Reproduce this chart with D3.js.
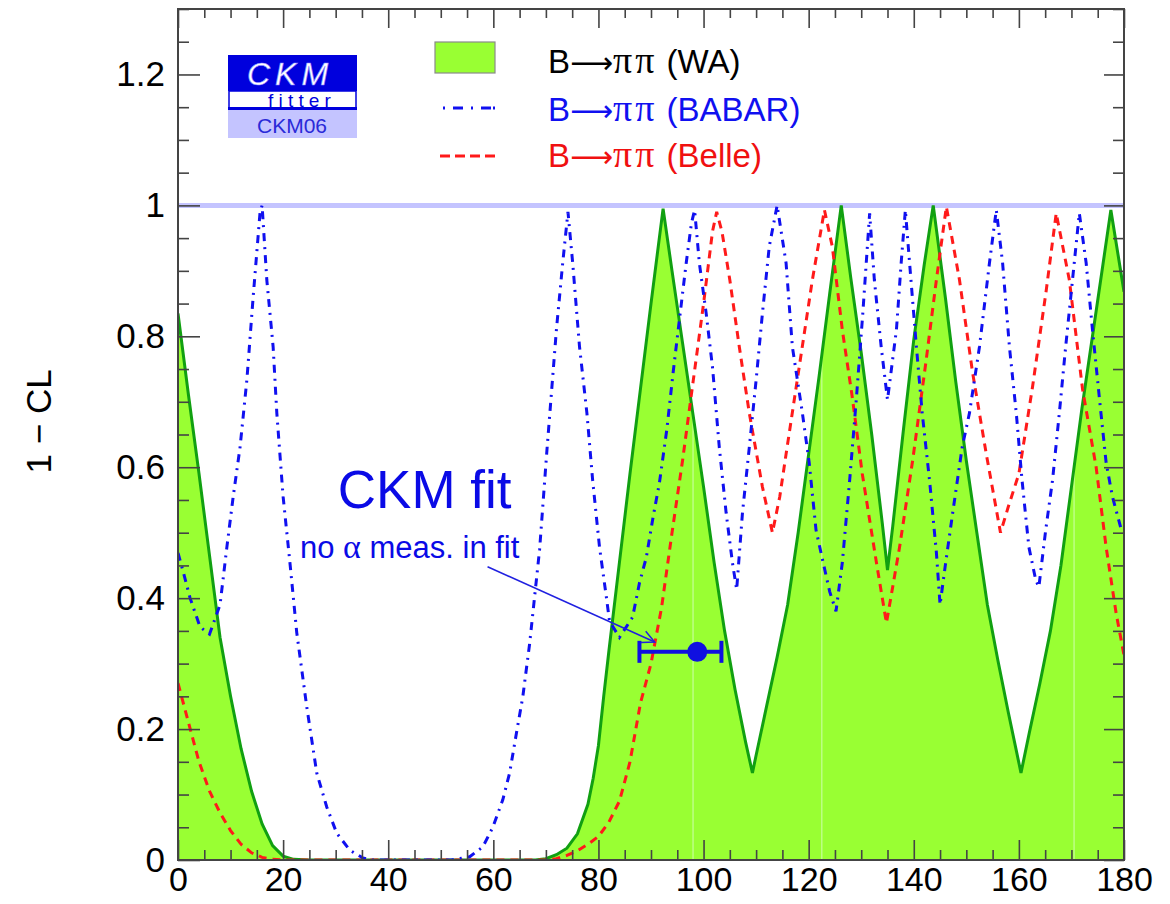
<!DOCTYPE html>
<html><head><meta charset="utf-8">
<script src="https://cdn.jsdelivr.net/npm/d3@7"></script>
<style>
html,body{margin:0;padding:0;background:#fff;}
svg{display:block;font-family:"Liberation Sans",Arial,Helvetica,sans-serif;}
</style></head>
<body><svg id="c" width="1170" height="904"></svg>
<script>
// ---- data (alpha in degrees, 1-CL) ----
const waX = [0,2,4,6,8,10,12,14,16,18,20,22,25,30,40,50,60,65,68,70,72,74,76,78,79,80,81,82,84,86,88,90,92.3,94,96,98,100,102,104,106,108,109.3,110,112,114,116,118,120,122,124,126.2,128,130,132,134,135,136,138,140,142,143.7,146,148,150,152,154,156,158,160.4,162,164,166,168,170,172,174,176,177.5,180];
const waY = [0.835,0.71,0.59,0.465,0.34,0.25,0.17,0.105,0.055,0.022,0.006,0.001,0,0,0,0,0,0,0,0.002,0.008,0.018,0.04,0.085,0.125,0.175,0.25,0.32,0.455,0.59,0.72,0.85,0.995,0.9,0.79,0.68,0.57,0.455,0.35,0.26,0.18,0.133,0.16,0.235,0.31,0.39,0.5,0.62,0.74,0.865,1.0,0.89,0.775,0.65,0.515,0.443,0.51,0.655,0.795,0.91,1.0,0.86,0.73,0.61,0.5,0.39,0.305,0.225,0.133,0.195,0.27,0.35,0.45,0.57,0.69,0.8,0.91,0.993,0.868];

const babarX = [0,1,2.3,4.2,6,8,9.3,10.5,11.8,13.1,14.3,15.6,16,16.9,18.1,18.8,20,21.3,22.6,24.5,26.4,28.3,30.2,32.7,35.2,37,52,55.5,58,59.9,61.8,63.1,64.4,65.6,66.9,68.8,70.2,72,73.2,74.2,75.1,76.4,77.8,78.9,80.2,81.5,82.1,84,86.5,87.8,89.1,90.4,91.6,93,94.2,95.4,96.7,97.7,98.3,99.2,100.5,101.7,103,104.3,105.5,106.3,107.4,108.7,110,111.2,112.5,114,115.7,116.9,118.8,120.1,121.4,122.6,124,125.2,126.4,127.8,129.1,130.3,131.6,132.5,133.8,135,136.7,137.6,138.4,139.2,140.5,141.6,143,144.3,145,146,147.4,149.2,150.6,152.5,154.4,155.7,156.9,158.2,159.5,160.6,161.9,163.2,163.8,165.1,166.4,167.7,168.9,170.2,171.5,172.8,174,175.3,176.6,177.8,179.5,180];
const babarY = [0.469,0.44,0.4,0.356,0.345,0.39,0.478,0.555,0.63,0.733,0.86,0.988,1.0,0.886,0.784,0.683,0.555,0.454,0.347,0.234,0.133,0.081,0.041,0.015,0.003,0,0,0.005,0.02,0.05,0.092,0.133,0.194,0.249,0.33,0.474,0.626,0.81,0.912,0.99,0.912,0.784,0.683,0.58,0.478,0.402,0.365,0.34,0.371,0.423,0.462,0.524,0.576,0.657,0.744,0.825,0.912,0.973,0.993,0.912,0.835,0.753,0.63,0.53,0.454,0.413,0.53,0.63,0.733,0.835,0.937,1.0,0.912,0.784,0.683,0.607,0.504,0.46,0.41,0.38,0.454,0.58,0.707,0.835,0.988,0.886,0.784,0.703,0.81,0.912,0.993,0.912,0.784,0.683,0.58,0.47,0.39,0.45,0.53,0.63,0.683,0.784,0.912,0.993,0.912,0.784,0.683,0.58,0.478,0.428,0.417,0.504,0.58,0.683,0.784,0.886,0.988,0.912,0.81,0.707,0.607,0.555,0.504,0.5];

const belleX = [0,2,4,6,8,10,12,14,16,18,20,40,60,70,72,74,76,78,80,82,84,86,88,90,92,94,96,98,100,101.7,102.5,103.5,105,106.8,108.7,111.2,113.1,114.5,115.7,118.2,120.7,123,124.5,126.4,128.3,130.2,132.9,134.8,137.3,139.8,142.3,144.3,146.2,148.7,151.2,153.8,156.5,158,160,162.6,165.2,167.1,169.6,172.1,174.7,176.6,178.5,180];
const belleY = [0.27,0.21,0.15,0.105,0.072,0.045,0.024,0.011,0.004,0.001,0,0,0,0,0.002,0.007,0.014,0.024,0.036,0.058,0.09,0.15,0.24,0.3,0.385,0.5,0.61,0.73,0.85,0.96,0.99,0.96,0.886,0.784,0.683,0.57,0.5,0.555,0.62,0.753,0.886,0.993,0.937,0.81,0.707,0.59,0.454,0.362,0.478,0.611,0.76,0.886,0.998,0.886,0.744,0.62,0.5,0.54,0.59,0.723,0.87,0.988,0.886,0.72,0.6,0.478,0.377,0.313];

// CKM fit: central value and interval
const fitValue = [98.8];
const fitRange = [87.8, 103.4];
const fitLevel = [0.318];

// faint seams visible inside the WA fill
const fillSeams = [98, 122.5, 170.5];

const xMajor = [0,20,40,60,80,100,120,140,160,180];
const yMajor = [0,0.2,0.4,0.6,0.8,1,1.2];
const yLabels = ["0","0.2","0.4","0.6","0.8","1","1.2"];
const legendSuffix = [" (WA)"," (BABAR)"," (Belle)"];

// ---- layout ----
const W = 1170, H = 904;
const m = {l:178, r:46, t:9, b:44};
const svg = d3.select("#c");
const x = d3.scaleLinear().domain([0,180]).range([m.l, W-m.r]);
const y = d3.scaleLinear().domain([0,1.3]).range([H-m.b, m.t]);

const GREEN_FILL = "#99ff33", GREEN_LINE = "#11a011", BLUE = "#1010f0", RED = "#ff1a1a";

svg.append("defs").append("clipPath").attr("id","plot")
  .append("rect").attr("x",m.l).attr("y",m.t).attr("width",W-m.l-m.r).attr("height",H-m.t-m.b);

const plot = svg.append("g").attr("clip-path","url(#plot)");

// CL=1 band
plot.append("line").attr("x1",x(0)).attr("x2",x(180)).attr("y1",y(1)).attr("y2",y(1))
  .attr("stroke","#c4c4ff").attr("stroke-width",5);

const wa = waX.map((d,i)=>[d,waY[i]]);
const babar = babarX.map((d,i)=>[d,babarY[i]]);
const belle = belleX.map((d,i)=>[d,belleY[i]]);

plot.append("path").datum(wa)
  .attr("d", d3.area().x(d=>x(d[0])).y0(y(0)).y1(d=>y(d[1])))
  .attr("fill",GREEN_FILL);
const waInterp = d3.scaleLinear().domain(waX).range(waY);
fillSeams.forEach(s=>{
  plot.append("line").attr("x1",x(s)).attr("x2",x(s)).attr("y1",y(0)).attr("y2",y(waInterp(s))+3)
    .attr("stroke","#c6ff99").attr("stroke-width",1.2);
});
const line = d3.line().x(d=>x(d[0])).y(d=>y(d[1]));
plot.append("path").datum(wa).attr("d",line).attr("fill","none")
  .attr("stroke",GREEN_LINE).attr("stroke-width",3).attr("stroke-linejoin","miter");
plot.append("path").datum(belle).attr("d",line).attr("fill","none")
  .attr("stroke",RED).attr("stroke-width",3).attr("stroke-dasharray","8,6");
plot.append("path").datum(babar).attr("d",line).attr("fill","none")
  .attr("stroke",BLUE).attr("stroke-width",3).attr("stroke-dasharray","8,6,2,6");

// CKM fit point with error bar
const fy = y(fitLevel[0]);
const fitG = svg.append("g").attr("stroke","#1010e0").attr("stroke-width",4);
fitG.append("line").attr("x1",x(fitRange[0])).attr("x2",x(fitRange[1])).attr("y1",fy).attr("y2",fy);
fitRange.forEach(v=>fitG.append("line").attr("x1",x(v)).attr("x2",x(v)).attr("y1",fy-11).attr("y2",fy+11));
svg.append("circle").attr("cx",x(fitValue[0])).attr("cy",fy).attr("r",10).attr("fill","#1010e0");

// arrow
const ax0 = x(58.9), ay0 = y(0.448), ax1 = x(90.7), ay1 = y(0.333);
svg.append("line").attr("x1",ax0).attr("y1",ay0).attr("x2",ax1).attr("y2",ay1)
  .attr("stroke","#2020e0").attr("stroke-width",1.5);
{
  const ang = Math.atan2(ay1-ay0, ax1-ax0), L = 14, sp = 0.45;
  const p1 = [ax1 - L*Math.cos(ang-sp), ay1 - L*Math.sin(ang-sp)];
  const p2 = [ax1 - L*Math.cos(ang+sp), ay1 - L*Math.sin(ang+sp)];
  svg.append("path").attr("d",`M${p1[0]},${p1[1]}L${ax1},${ay1}L${p2[0]},${p2[1]}`)
    .attr("fill","none").attr("stroke","#2020e0").attr("stroke-width",1.5);
}
svg.append("text").attr("x",x(30.4)).attr("y",y(0.538)).text("CKM fit")
  .attr("fill","#0a0ae6").attr("font-size",53);
{
  const t = svg.append("text").attr("x",x(23.2)).attr("y",y(0.461))
    .attr("fill","#0a0ae6").attr("font-size",31);
  t.append("tspan").text("no ");
  t.append("tspan").attr("font-family","Liberation Serif").attr("font-size",34).text("\u03b1");
  t.append("tspan").text(" meas. in fit");
}

// ---- frame and axes ----
svg.append("rect").attr("x",m.l).attr("y",m.t).attr("width",W-m.l-m.r).attr("height",H-m.t-m.b)
  .attr("fill","none").attr("stroke","#444").attr("stroke-width",2);

const xMinor = d3.range(0,181,5).filter(v=>v%20!==0);
const yMinor = d3.range(0,1.3001,0.05).map(v=>+v.toFixed(2)).filter(v=>Math.abs(v*5-Math.round(v*5))>1e-6);

function styleAxis(g){ g.select(".domain").remove(); g.selectAll("line").attr("stroke","#444").attr("stroke-width",1.6); }

svg.append("g").attr("transform",`translate(0,${y(0)})`)
  .call(d3.axisBottom(x).tickValues(xMajor).tickSize(-20).tickPadding(7).tickFormat(d3.format("d")))
  .call(styleAxis)
  .selectAll("text").attr("font-size",34).attr("fill","#000").attr("font-family","Liberation Sans, Arial, sans-serif");
svg.append("g").attr("transform",`translate(0,${y(0)})`)
  .call(d3.axisBottom(x).tickValues(xMinor).tickSize(-10).tickFormat(""))
  .call(styleAxis);
svg.append("g").attr("transform",`translate(0,${m.t})`)
  .call(d3.axisTop(x).tickValues(xMajor).tickSize(-19).tickFormat(""))
  .call(styleAxis);
svg.append("g").attr("transform",`translate(0,${m.t})`)
  .call(d3.axisTop(x).tickValues(xMinor).tickSize(-9).tickFormat(""))
  .call(styleAxis);

svg.append("g").attr("transform",`translate(${m.l},0)`)
  .call(d3.axisLeft(y).tickValues(yMajor).tickSize(-22).tickPadding(13).tickFormat((d,i)=>yLabels[i]))
  .call(styleAxis)
  .selectAll("text").attr("font-size",35).attr("fill","#000").attr("font-family","Liberation Sans, Arial, sans-serif");
svg.append("g").attr("transform",`translate(${m.l},0)`)
  .call(d3.axisLeft(y).tickValues(yMinor).tickSize(-11).tickFormat(""))
  .call(styleAxis);
svg.append("g").attr("transform",`translate(${W-m.r},0)`)
  .call(d3.axisRight(y).tickValues(yMajor).tickSize(-20).tickFormat(""))
  .call(styleAxis);
svg.append("g").attr("transform",`translate(${W-m.r},0)`)
  .call(d3.axisRight(y).tickValues(yMinor).tickSize(-11).tickFormat(""))
  .call(styleAxis);

svg.append("text").attr("transform",`translate(51,${y(0.67)}) rotate(-90)`)
  .attr("text-anchor","middle").attr("font-size",35).text("1 \u2212 CL");

// ---- legend ----
const lg = svg.append("g");
const rowY = [62,110,156];
lg.append("rect").attr("x",435).attr("y",42).attr("width",60).attr("height",31)
  .attr("fill",GREEN_FILL).attr("stroke","#8a8a8a").attr("stroke-width",1.2);
lg.append("line").attr("x1",443).attr("x2",495).attr("y1",rowY[1]-2).attr("y2",rowY[1]-2)
  .attr("stroke",BLUE).attr("stroke-width",3).attr("stroke-dasharray","2,8,10,8,2,8,10");
lg.append("line").attr("x1",440).attr("x2",495).attr("y1",rowY[2]).attr("y2",rowY[2])
  .attr("stroke",RED).attr("stroke-width",3).attr("stroke-dasharray","10,5");
const lcol = ["#000","#1010f0","#f01010"];
legendSuffix.forEach((t,i)=>{
  const tx = lg.append("text").attr("x",548).attr("y",rowY[i]+11).attr("font-size",33).attr("fill",lcol[i]);
  tx.append("tspan").text("B");
  tx.append("tspan").attr("font-family","DejaVu Sans").attr("font-size",30).text("\u27f6");
  tx.append("tspan").attr("font-family","Liberation Serif").attr("font-size",38).attr("letter-spacing",3).text("\u03c0\u03c0");
  tx.append("tspan").text(t);
});

// ---- CKMfitter logo ----
const logo = svg.append("g");
logo.append("rect").attr("x",228).attr("y",55).attr("width",129).attr("height",36).attr("fill","#0000dd");
logo.append("rect").attr("x",229).attr("y",91).attr("width",127).attr("height",17).attr("fill","#fff")
  .attr("stroke","#0000dd").attr("stroke-width",1.5);
logo.append("rect").attr("x",228).attr("y",107).attr("width",129).attr("height",3).attr("fill","#0000dd");
logo.append("rect").attr("x",228).attr("y",110).attr("width",129).attr("height",28).attr("fill","#c4c4ff");
logo.append("text").attr("x",290).attr("y",85).attr("text-anchor","middle").attr("font-size",32)
  .attr("font-style","italic").attr("letter-spacing",5).attr("fill","#fff").attr("stroke","#8888ff").attr("stroke-width",0.6).text("CKM");
logo.append("text").attr("x",268).attr("y",107).attr("font-size",19).attr("letter-spacing",5.2)
  .attr("fill","#0000dd").text("fitter");
logo.append("text").attr("x",292).attr("y",133).attr("text-anchor","middle").attr("font-size",21)
  .attr("fill","#2a2ad8").text("CKM06");
</script></body></html>
